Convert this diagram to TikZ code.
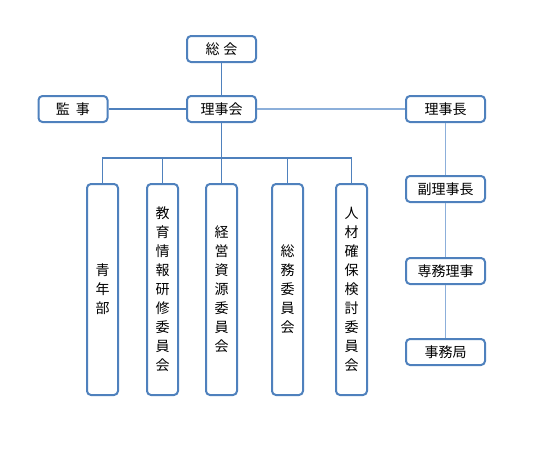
\documentclass[tikz,border=0pt]{standalone}
\usepackage{fontspec}
\setmainfont{Noto Sans CJK JP}
\usepackage{tikz}
\usetikzlibrary{positioning}
\definecolor{orgblue}{RGB}{79,129,189}
\definecolor{orglight}{RGB}{140,175,218}

\begin{document}
\begin{tikzpicture}[x=1pt, y=-1pt,
    unit/.style={draw=orgblue, line width=2pt, rounded corners=4pt, fill=white, inner sep=0pt,
        minimum height=26pt, font=\fontsize{14}{16}\selectfont},
    wideunit/.style={unit, minimum width=79pt},
    narrowunit/.style={unit, minimum width=69pt},
    tallunit/.style={unit, minimum width=31pt, minimum height=211pt, align=center,
        font=\fontsize{14}{19}\selectfont},
    link/.style={draw=orgblue, line width=1.2pt},
    lightlink/.style={draw=orglight, line width=1.5pt},
]
\useasboundingbox (0,0) rectangle (555,463);

% --- top ---
\node[narrowunit] (sokai) at (221.5,49) {総\hspace{4pt}会};
\node[narrowunit] (rijikai) at (221.5,109) {理事会};
\node[narrowunit] (kanji) at (73,109) {監\hspace{6pt}事};

% --- right chain ---
\node[wideunit] (rijicho) at (445.5,109) {理事長};
\node[wideunit] (fuku) at (445.5,189) {副理事長};
\node[wideunit] (senmu) at (445.5,271) {専務理事};
\node[wideunit] (jimu) at (445.5,352) {事務局};

% --- committees ---
\coordinate (bus) at (221.5,158);
\foreach \nm/\xx/\txt in {seinen/102.5/{青\\年\\部},
                          kyoiku/162.5/{教\\育\\情\\報\\研\\修\\委\\員\\会},
                          keiei/221.5/{経\\営\\資\\源\\委\\員\\会},
                          somu/287.5/{総\\務\\委\\員\\会},
                          jinzai/351.5/{人\\材\\確\\保\\検\\討\\委\\員\\会}} {
    \node[tallunit] (\nm) at (\xx,289.5) {\txt};
    \draw[link] (\nm.north) |- (bus);
}

% connectors
\draw[link] (sokai) -- (rijikai);
\draw[link] (kanji) -- (rijikai);
\draw[link] (rijikai) -- (bus);
\draw[lightlink] (rijikai) -- (rijicho);
\draw[lightlink] (rijicho) -- (fuku);
\draw[lightlink] (fuku) -- (senmu);
\draw[lightlink] (senmu) -- (jimu);

\end{tikzpicture}
\end{document}
